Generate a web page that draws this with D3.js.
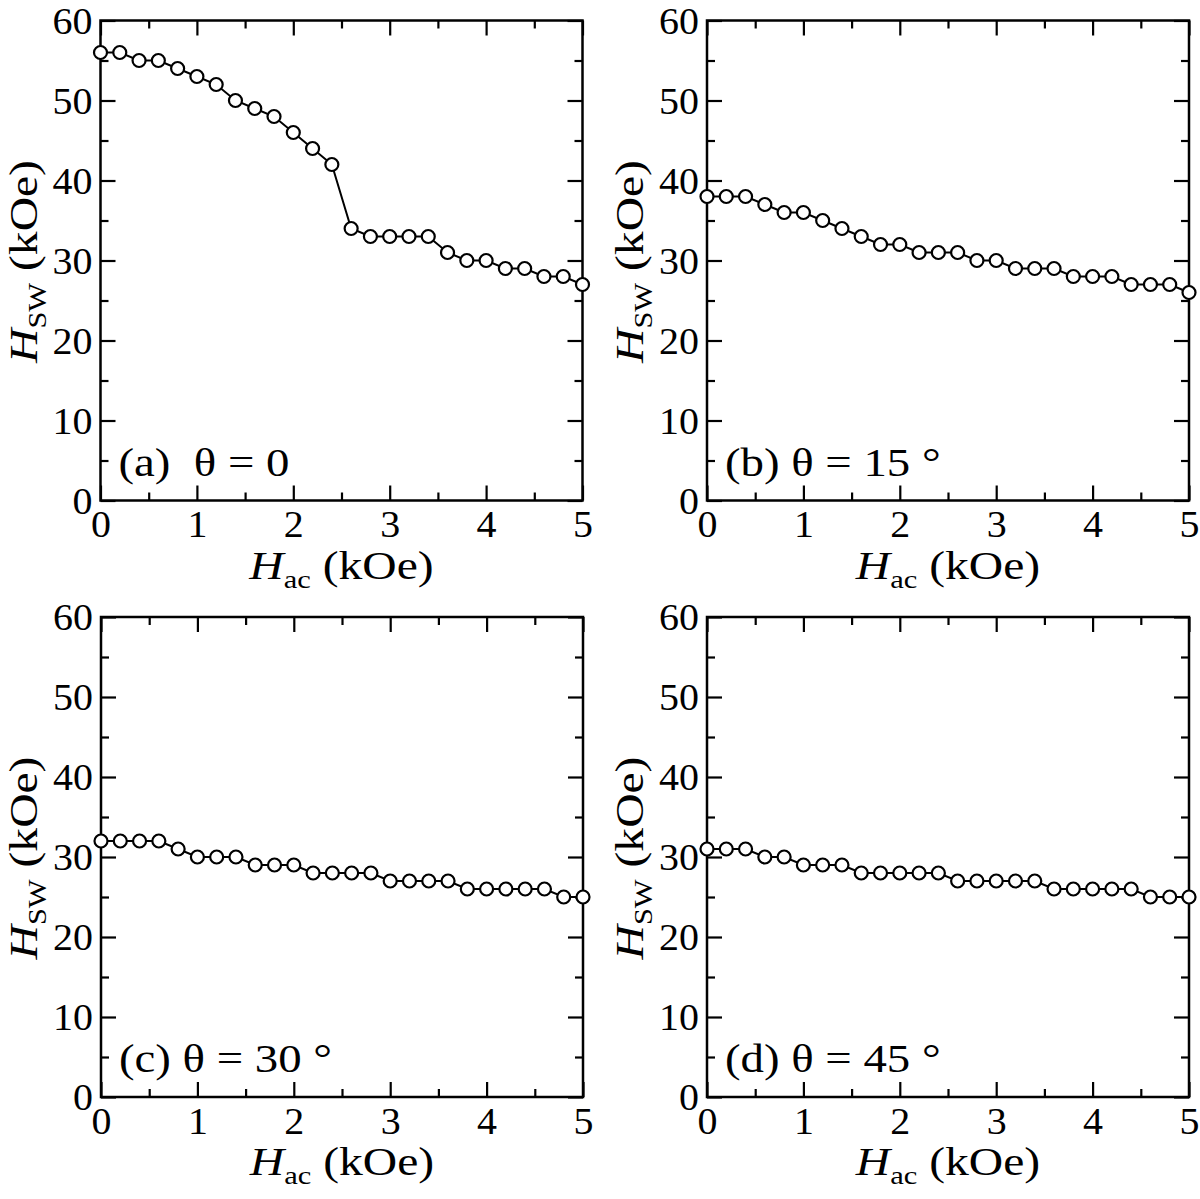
<!DOCTYPE html>
<html lang="en">
<head>
<meta charset="UTF-8">
<title>HSW vs Hac</title>
<script src="https://d3js.org/d3.v7.min.js"></script>
<style>
  body { margin: 0; background: #fff; }
  text { font-family: "Liberation Serif", "Times New Roman", serif; fill: #000; }
</style>
</head>
<body>
<div id="main"></div>
<script>
    // Hac values (kOe), shared by all panels
    const hac = [0, 0.2, 0.4, 0.6, 0.8, 1.0, 1.2, 1.4, 1.6, 1.8, 2.0, 2.2, 2.4,
                 2.6, 2.8, 3.0, 3.2, 3.4, 3.6, 3.8, 4.0, 4.2, 4.4, 4.6, 4.8, 5.0]

    // HSW (kOe) per panel
    const hswA = [56, 56, 55, 55, 54, 53, 52, 50, 49, 48, 46, 44, 42,
                  34, 33, 33, 33, 33, 31, 30, 30, 29, 29, 28, 28, 27]
    const hswB = [38, 38, 38, 37, 36, 36, 35, 34, 33, 32, 32, 31, 31,
                  31, 30, 30, 29, 29, 29, 28, 28, 28, 27, 27, 27, 26]
    const hswC = [32, 32, 32, 32, 31, 30, 30, 30, 29, 29, 29, 28, 28,
                  28, 28, 27, 27, 27, 27, 26, 26, 26, 26, 26, 25, 25]
    const hswD = [31, 31, 31, 30, 30, 29, 29, 29, 28, 28, 28, 28, 28,
                  27, 27, 27, 27, 27, 26, 26, 26, 26, 26, 25, 25, 25]

    const panelTags = ["(a)", "(b)", "(c)", "(d)"]
    const panelAngles = ["0", "15", "30", "45"]

    const xTicks = [0, 1, 2, 3, 4, 5]
    const xMinor = [0.5, 1.5, 2.5, 3.5, 4.5]
    const yTicks = [0, 10, 20, 30, 40, 50, 60]
    const yMinor = [5, 15, 25, 35, 45, 55]

    const series = [hswA, hswB, hswC, hswD]

    let width = 482, height = 480
    let origins = [[100.5, 20.5], [707, 20.5], [101, 617], [707, 617]]
    let serif = '"Liberation Serif", "Times New Roman", serif'

    // the original lettering is a little wider than plain Times
    let tickStretch = 1.08, titleStretch = 1.22, labStretch = 1.17

    let svg = d3.select("#main")
        .append("svg")
        .attr("width", 1200)
        .attr("height", 1199)

    let XScale = d3.scaleLinear().domain([0, 5]).range([0, width])
    let YScale = d3.scaleLinear().domain([0, 60]).range([height, 0])

    let majorLen = 15, minorLen = 8

    series.forEach(function (vals, p) {
        let chart = svg.append("g")
            .attr("transform", `translate(${origins[p][0]}, ${origins[p][1]})`)

        // tick marks on all four sides, pointing inward
        let addTicks = function (axisFn, scale, values, len, tr, labels) {
            let ax = axisFn(scale).tickValues(values).tickSizeInner(-len).tickSizeOuter(0)
            ax.tickFormat(labels ? d3.format("d") : "")
            let g = chart.append("g").attr("transform", tr).call(ax)
                .attr("font-family", serif)
            g.select(".domain").remove()
            g.selectAll("line").attr("stroke", "#000").attr("stroke-width", 2.2)
            return g
        }

        let bx = addTicks(d3.axisBottom, XScale, xTicks, majorLen, `translate(0, ${height})`, true)
        bx.selectAll("text")
            .attr("y", 0).attr("dy", 37)
            .attr("font-size", 37)
            .attr("transform", `scale(${tickStretch}, 1)`)
        addTicks(d3.axisBottom, XScale, xMinor, minorLen, `translate(0, ${height})`, false)
        addTicks(d3.axisTop, XScale, xTicks, majorLen, "translate(0, 0)", false)
        addTicks(d3.axisTop, XScale, xMinor, minorLen, "translate(0, 0)", false)

        let ly = addTicks(d3.axisLeft, YScale, yTicks, majorLen, "translate(0, 0)", true)
        ly.selectAll("text")
            .attr("x", -8 / tickStretch).attr("dy", "0.34em")
            .attr("font-size", 37)
            .attr("transform", `scale(${tickStretch}, 1)`)
        addTicks(d3.axisLeft, YScale, yMinor, minorLen, "translate(0, 0)", false)
        addTicks(d3.axisRight, YScale, yTicks, majorLen, `translate(${width}, 0)`, false)
        addTicks(d3.axisRight, YScale, yMinor, minorLen, `translate(${width}, 0)`, false)

        // frame
        chart.append("rect")
            .attr("width", width).attr("height", height)
            .attr("fill", "none")
            .attr("stroke", "#000")
            .attr("stroke-width", 2.5)

        // data line + open circles
        let pts = hac.map((h, i) => [h, vals[i]])
        chart.append("path")
            .attr("d", d3.line().x(d => XScale(d[0])).y(d => YScale(d[1]))(pts))
            .attr("fill", "none")
            .attr("stroke", "#000")
            .attr("stroke-width", 2)

        chart.append("g").selectAll("circle")
            .data(pts)
            .enter()
            .append("circle")
            .attr("cx", d => XScale(d[0]))
            .attr("cy", d => YScale(d[1]))
            .attr("r", 6.5)
            .attr("fill", "#fff")
            .attr("stroke", "#000")
            .attr("stroke-width", 2.2)

        // axis titles
        let xt = chart.append("g")
            .attr("transform", `translate(${width / 2}, ${height + 78}) scale(${titleStretch}, 1)`)
            .append("text")
            .attr("text-anchor", "middle")
            .style("font-size", "39px")
        xt.append("tspan").style("font-style", "italic").text("H")
        xt.append("tspan").attr("dy", 9).style("font-size", "25px").text("ac")
        xt.append("tspan").attr("dy", -9).text(" (kOe)")

        let yt = chart.append("g")
            .attr("transform", `translate(-64, ${height / 2 + 1}) rotate(-90) scale(${titleStretch}, 1)`)
            .append("text")
            .attr("text-anchor", "middle")
            .style("font-size", "39px")
        yt.append("tspan").style("font-style", "italic").text("H")
        yt.append("tspan").attr("dy", 9).style("font-size", "25px").text("SW")
        yt.append("tspan").attr("dy", -9).text(" (kOe)")

        // panel label
        let lab = chart.append("g")
            .attr("transform", `translate(18, ${height - 25}) scale(${labStretch}, 1)`)
            .append("text")
            .style("font-size", "40px")
        let txt = panelTags[p] + (p === 0 ? "\u00a0 " : " ") + "\u03b8 = " + panelAngles[p]
        lab.append("tspan").text(txt)
        if (p > 0) lab.append("tspan").text(" \u00b0")
    })
</script>
</body>
</html>
